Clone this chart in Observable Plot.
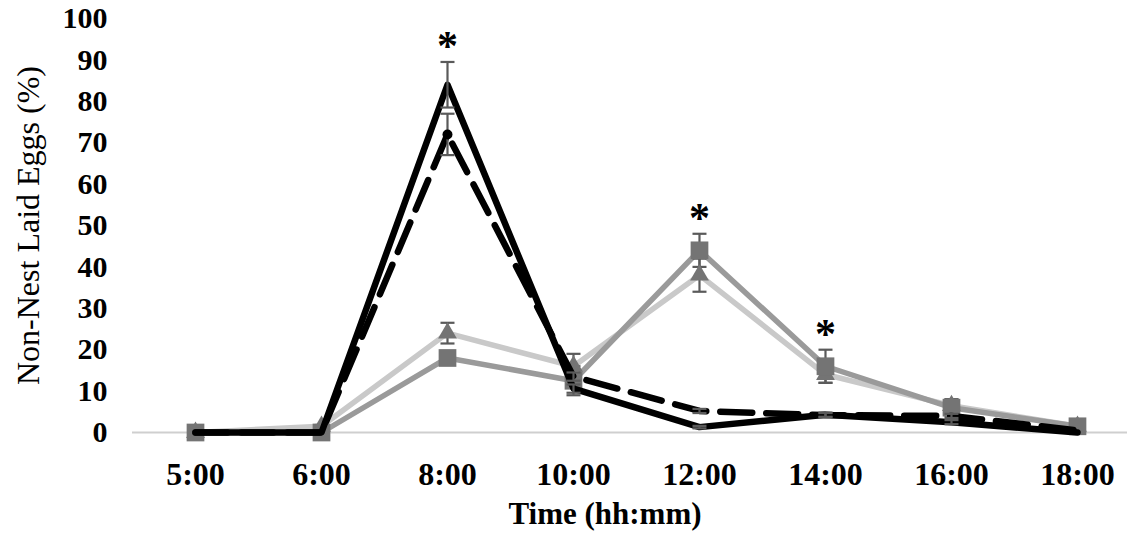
<!DOCTYPE html>
<html>
<head>
<meta charset="utf-8">
<script src="https://cdn.jsdelivr.net/npm/d3@7"></script>
<script src="https://cdn.jsdelivr.net/npm/@observablehq/plot@0.6"></script>
<style>
  html, body { margin: 0; padding: 0; background: #fff; }
  #chart svg { display: block; }
  g[aria-label="x-axis tick label"] text,
  g[aria-label="y-axis tick label"] text { font-weight: bold; }
</style>
</head>
<body>
<div id="chart"></div>
<script>
// ---- data ----
const times = ["5:00","6:00","8:00","10:00","12:00","14:00","16:00","18:00"];
const blackSolid     = [0, 0,   84, 10.6, 1.3, 4.3, 2.5, 0];
const blackSolidErr  = [0, 0,  5.5, 1,   0.3, 0.5, 0.5, 0];
const blackDashed    = [0, 0,   72, 13.5, 5.2, 4.2, 4,  0.5];
const blackDashedErr = [0, 0,    5, 1,   0.5, 0.5, 0.5, 0];
const lightGray      = [0, 1.5, 24, 16,  38,  14,  6.5, 1.5];
const lightGrayErr   = [0, 0.3, 2.5, 3,  4,   2,   1.5, 0.5];
const midGray        = [0, 0,   18, 12.5, 44, 16,  6,   1.5];
const midGrayErr     = [0, 0,  1.5, 3.5, 4,   4,   2,   0.5];
const starTimes = ["8:00", "12:00", "14:00"];
const yTicks = [0,10,20,30,40,50,60,70,80,90,100];
const yLabel = "Non-Nest Laid Eggs (%)";
const xLabel = ["Time (hh:mm)"];

function rows(name, vals, errs) {
  return vals.map((v, i) => ({series: name, i, time: times[i], value: v, err: errs[i]}));
}
const sSolid = rows("solid", blackSolid, blackSolidErr);
const sDashed = rows("dashed", blackDashed, blackDashedErr);
const sLight = rows("light", lightGray, lightGrayErr);
const sMid = rows("mid", midGray, midGrayErr);
const all = [...sSolid, ...sDashed, ...sLight, ...sMid];

const stars = starTimes.map(t => {
  const i = times.indexOf(t);
  const top = d3.max(all.filter(d => d.i === i), d => d.value + d.err);
  return {i, top};
});

// horizontal cap symbol for error bars
const cap = {draw(ctx, size) { const w = 7; ctx.moveTo(-w, 0); ctx.lineTo(w, 0); }};

const errStyle = {stroke: "#5a5a5a", strokeWidth: 2.2};
function errMarks(data) {
  const d = data.filter(r => r.err > 0);
  return [
    Plot.ruleX(d, {x: "i", y1: r => r.value - r.err, y2: r => r.value + r.err, ...errStyle}),
    Plot.dot(d, {x: "i", y: r => r.value + r.err, symbol: cap, r: 4, ...errStyle, fill: "none"}),
    Plot.dot(d, {x: "i", y: r => r.value - r.err, symbol: cap, r: 4, ...errStyle, fill: "none"})
  ];
}

const plot = Plot.plot({
  width: 1127,
  height: 535,
  marginLeft: 132,
  marginRight: 0,
  marginTop: 18,
  marginBottom: 103,
  style: {fontFamily: "'Liberation Serif', 'Times New Roman', serif", fontSize: "30px", color: "#000", background: "#fff"},
  x: {type: "linear", domain: [-0.5, 7.397]},
  y: {domain: [0, 100]},
  marks: [
    Plot.ruleY([0], {stroke: "#cfcfcf", strokeWidth: 2}),
    Plot.axisX({ticks: d3.range(times.length), tickFormat: i => times[i], tickSize: 0, tickPadding: 30, label: null, fontSize: 32}),
    Plot.axisY({ticks: yTicks, tickSize: 0, tickPadding: 25, label: yLabel, labelAnchor: "center", labelArrow: "none", labelOffset: 116, fontSize: 30}),
    // gray series
    Plot.line(sLight, {x: "i", y: "value", stroke: "#c9c9c9", strokeWidth: 5.5}),
    Plot.line(sMid, {x: "i", y: "value", stroke: "#9a9a9a", strokeWidth: 5.5}),
    ...errMarks(sLight),
    ...errMarks(sMid),
    Plot.dot(sLight, {x: "i", y: "value", symbol: "triangle", r: 7, fill: "#747474"}),
    Plot.dot(sMid, {x: "i", y: "value", symbol: "square", r: 10, fill: "#747474"}),
    // black series
    Plot.line(sDashed, {x: "i", y: "value", stroke: "#000", strokeWidth: 6.5, strokeDasharray: "32,14", strokeLinecap: "round"}),
    Plot.line(sSolid, {x: "i", y: "value", stroke: "#000", strokeWidth: 6.5}),
    ...errMarks(sSolid),
    ...errMarks(sDashed),
    Plot.dot(sDashed.filter(d => d.value > 50), {x: "i", y: "value", r: 5, fill: "#000"}),
    // significance stars
    Plot.text(stars, {x: "i", y: "top", text: () => "*", dy: -2, fontSize: 42, fontWeight: "bold", lineAnchor: "bottom"}),
    // x axis title
    Plot.text(xLabel, {frameAnchor: "bottom", lineAnchor: "top", dy: 69, dx: -25, text: d => d, fontSize: 31, fontWeight: "bold"})
  ]
});
plot.querySelectorAll('g[aria-label="y-axis label"] text').forEach(t => t.setAttribute("font-size", 32));
document.getElementById("chart").appendChild(plot);
</script>
</body>
</html>
